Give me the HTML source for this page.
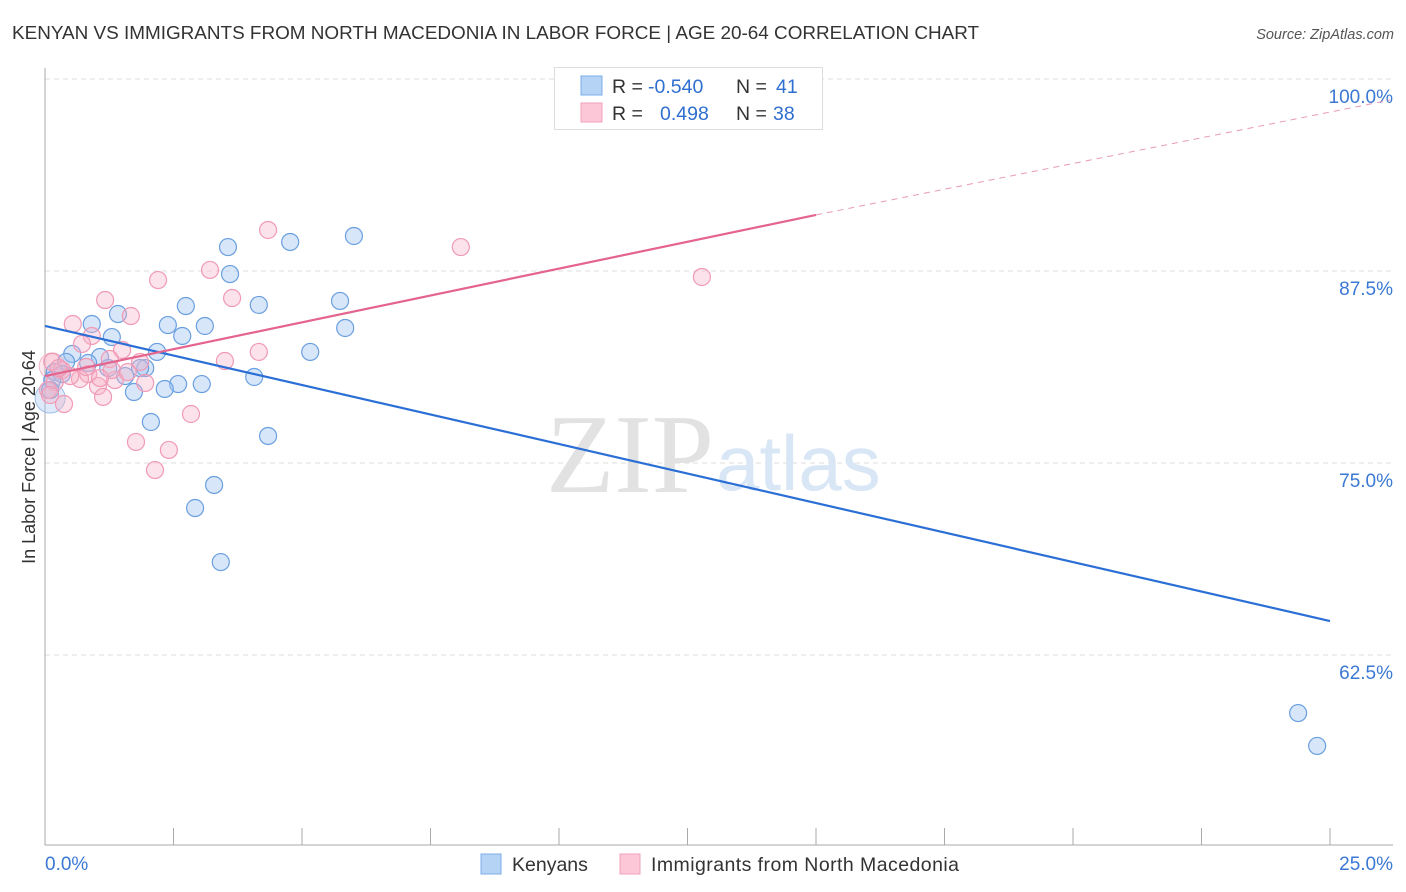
<!DOCTYPE html>
<html><head><meta charset="utf-8"><style>
body{margin:0;background:#fff;font-family:"Liberation Sans",sans-serif;}
svg{display:block}
</style></head><body>
<svg id="chart" width="1406" height="892">
<text x="12" y="39" font-size="18.9" fill="#333">KENYAN VS IMMIGRANTS FROM NORTH MACEDONIA IN LABOR FORCE | AGE 20-64 CORRELATION CHART</text>
<text x="1394" y="39" font-size="14.5" fill="#555" font-style="italic" text-anchor="end">Source: ZipAtlas.com</text>
<text x="35" y="457" font-size="18" fill="#333" text-anchor="middle" transform="rotate(-90 35 457)">In Labor Force | Age 20-64</text>
<g id="grid"></g>
<text x="714" y="492" font-size="112" fill="#e2e2e2" font-family="Liberation Serif,serif" text-anchor="end">ZIP</text>
<text x="716" y="490" font-size="78" fill="#d8e6f5">atlas</text>
<g id="pts"></g>
<g id="lines"></g>
<g>
<rect x="554.5" y="67.5" width="268" height="62" fill="#fff" stroke="#ddd"/>
<rect x="581" y="76" width="21" height="19" fill="#b5d3f5" stroke="#7aaee8"/>
<rect x="581" y="103" width="21" height="19" fill="#fcc8d8" stroke="#f2a0ba"/>
<text x="612" y="93" font-size="19.5" fill="#333">R = </text><text x="648" y="93" font-size="19.5" fill="#2f6fd0">-0.540</text>
<text x="736" y="93" font-size="19.5" fill="#333">N = </text><text x="776" y="93" font-size="19.5" fill="#2f6fd0">41</text>
<text x="612" y="120" font-size="19.5" fill="#333">R = </text><text x="660" y="120" font-size="19.5" fill="#2f6fd0">0.498</text>
<text x="736" y="120" font-size="19.5" fill="#333">N = </text><text x="773" y="120" font-size="19.5" fill="#2f6fd0">38</text>
</g>
<g>
<rect x="481" y="854" width="20" height="20" fill="#b5d3f5" stroke="#7aaee8"/>
<text x="512" y="871" font-size="19.5" fill="#333">Kenyans</text>
<rect x="620" y="854" width="20" height="20" fill="#fcc8d8" stroke="#f2a0ba"/>
<text x="651" y="871" font-size="19.5" fill="#333" textLength="308">Immigrants from North Macedonia</text>
</g>
</svg>
<script>
const yTicks=[100,87.5,75,62.5];
const yTickLabels=["100.0%","87.5%","75.0%","62.5%"];
const xTickVals=[0,2.5,5,7.5,10,12.5,15,17.5,20,22.5,25];
const xEndLabels=["0.0%","25.0%"];
const kenX=[10.35,3.56,4.77,6.01,3.60,2.74,4.16,5.74,1.42,2.39,3.11,0.91,5.84,2.67,1.30,2.18,5.16,0.53,1.07,0.41,0.84,1.95,1.23,0.19,0.33,1.56,4.07,2.59,3.05,2.33,1.73,0.14,0.10,2.06,4.34,3.29,2.92,3.42,24.38,24.75,1.85];
const kenY=[100.0,89.06,89.39,89.78,87.30,85.22,85.29,85.55,84.70,83.98,83.92,84.05,83.79,83.27,83.20,82.23,82.23,82.10,81.90,81.58,81.51,81.18,81.18,80.92,80.79,80.66,80.60,80.14,80.14,79.82,79.62,80.40,79.75,77.67,76.76,73.57,72.07,68.55,58.72,56.58,81.18];
const macX=[4.34,8.09,3.21,2.20,12.78,1.17,3.64,1.67,0.54,0.91,0.72,1.50,3.50,4.16,0.14,1.26,1.85,0.33,0.84,0.68,0.19,1.03,1.36,1.95,1.13,0.37,2.84,1.77,2.41,2.14,0.06,0.49,0.27,1.30,1.07,1.61,0.10,0.80];
const macY=[90.17,89.06,87.57,86.91,87.11,85.61,85.74,84.57,84.05,83.27,82.75,82.36,81.64,82.23,81.58,81.77,81.58,81.05,80.79,80.47,80.27,80.01,80.40,80.21,79.30,78.84,78.19,76.37,75.85,74.54,79.75,80.66,81.18,81.05,80.53,80.92,79.43,81.25];
const kenTrend=[83.92,64.71];
const macTrend=[80.66,91.15,98.63];
const macTrendX=[0,15,26.17];

const NS="http://www.w3.org/2000/svg";
const X=v=>45+v/25*1285;
const Y=v=>79+(100-v)*15.36;
function mk(tag,attrs,parent){const e=document.createElementNS(NS,tag);for(const k in attrs)e.setAttribute(k,attrs[k]);parent.appendChild(e);return e;}
const grid=document.getElementById('grid'),pts=document.getElementById('pts'),lines=document.getElementById('lines');
yTicks.forEach((t,i)=>{
 const l=mk('line',{x1:45,x2:1393,y1:Y(t),y2:Y(t),stroke:'#ddd','stroke-dasharray':'5,4'},grid);
 
 
 const tx=mk('text',{x:1393,y:Y(t)+24,'font-size':19,fill:'#3b78d4','text-anchor':'end'},grid);
 tx.textContent=yTickLabels[i];
 
 
});
const ax=mk('line',{x1:45,x2:45,y1:68,y2:845,stroke:'#aaa'},grid);


const bx=mk('line',{x1:45,x2:1393,y1:845,y2:845,stroke:'#aaa'},grid);


xTickVals.forEach(v=>{
 const t=mk('line',{x1:X(v),x2:X(v),y1:828,y2:845,stroke:'#aaa'},grid);
 
 
});
const xl0=mk('text',{x:45,y:870,'font-size':19,fill:'#3b78d4'},grid);xl0.textContent=xEndLabels[0];


const xl1=mk('text',{x:1393,y:870,'font-size':19,fill:'#3b78d4','text-anchor':'end'},grid);xl1.textContent=xEndLabels[1];


const big1=mk('circle',{cx:X(kenX[32]),cy:Y(kenY[32])+8,r:15,fill:'rgba(160,196,240,0.35)',stroke:'#9bbfe8','stroke-width':1},pts);


const big2=mk('circle',{cx:X(macX[14]),cy:Y(macY[14])+4,r:13,fill:'rgba(248,180,200,0.3)',stroke:'#f4b4c8','stroke-width':1},pts);


kenX.forEach((x,i)=>{
 const c=mk('circle',{cx:X(x),cy:Y(kenY[i]),r:8.5,fill:'rgba(160,196,240,0.42)',stroke:'#6a9fe0','stroke-width':1.2},pts);
 
 
});
macX.forEach((x,i)=>{
 const c=mk('circle',{cx:X(x),cy:Y(macY[i]),r:8.5,fill:'rgba(248,180,200,0.38)',stroke:'#f09ab6','stroke-width':1.2},pts);
 
 
});
const kl=mk('line',{x1:X(0),y1:Y(kenTrend[0]),x2:X(25),y2:Y(kenTrend[1]),stroke:'#2b6fd6','stroke-width':2.2},lines);


const ml=mk('line',{x1:X(macTrendX[0]),y1:Y(macTrend[0]),x2:X(macTrendX[1]),y2:Y(macTrend[1]),stroke:'#e4648e','stroke-width':2.2},lines);


const md=mk('line',{x1:X(macTrendX[1]),y1:Y(macTrend[1]),x2:X(macTrendX[2]),y2:Y(macTrend[2]),stroke:'#e99ab4','stroke-width':1,'stroke-dasharray':'6,5'},lines);


</script>
</body></html>
